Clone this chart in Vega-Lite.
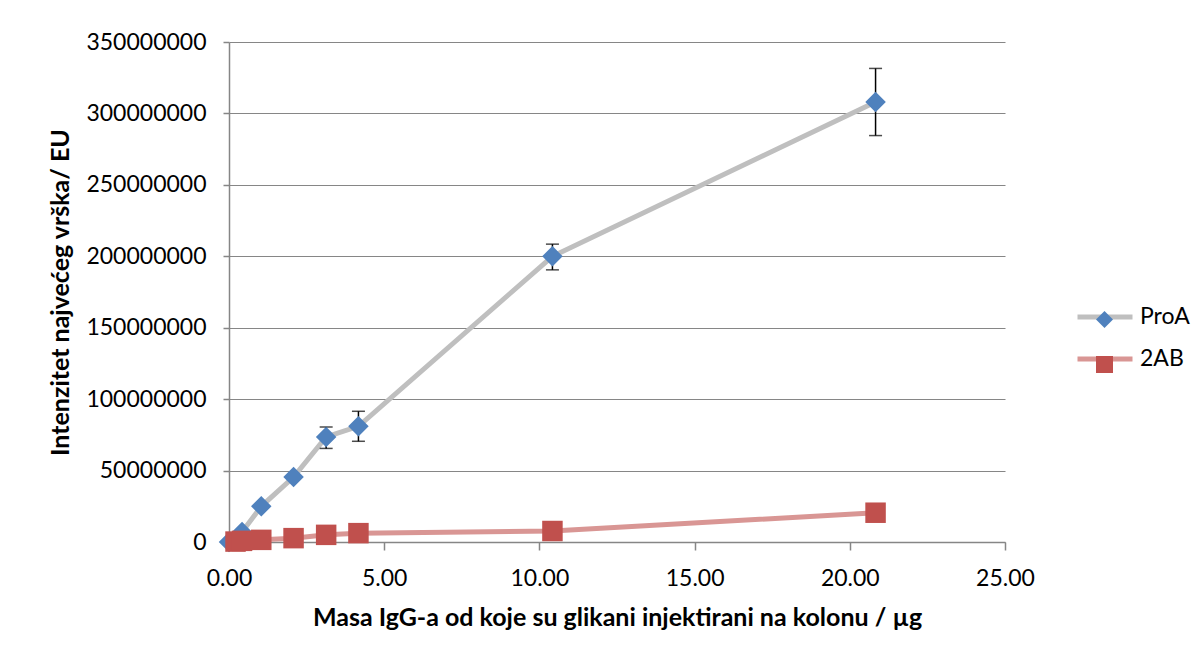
{
  "$schema": "https://vega.github.io/schema/vega-lite/v6.json",
  "width": 776,
  "height": 500,
  "autosize": "none",
  "padding": {"left": 229, "top": 42, "right": 195, "bottom": 117},
  "background": "white",
  "config": {
    "font": "Lato",
    "view": {"stroke": null},
    "axis": {
      "labelFont": "Lato",
      "labelFontSize": 23,
      "labelColor": "#000000",
      "labelFlush": false,
      "titleFont": "Lato",
      "titleFontSize": 25,
      "titleFontWeight": "bold",
      "titleColor": "#000000",
      "domainColor": "#868686",
      "domainWidth": 1.5,
      "tickColor": "#868686",
      "tickWidth": 1.5,
      "gridColor": "#868686",
      "gridWidth": 1.2
    },
    "legend": {"labelFont": "Lato", "labelFontSize": 23, "labelColor": "#000000"}
  },
  "data": {
    "values": [
      {"series": "ProA", "mass": 0, "intensity": 0},
      {"series": "ProA", "mass": 0.42, "intensity": 7000000},
      {"series": "ProA", "mass": 1.04, "intensity": 25000000},
      {"series": "ProA", "mass": 2.08, "intensity": 45500000, "lo": 44000000, "hi": 47000000},
      {"series": "ProA", "mass": 3.13, "intensity": 73500000, "lo": 65500000, "hi": 80500000},
      {"series": "ProA", "mass": 4.17, "intensity": 81000000, "lo": 70500000, "hi": 91500000},
      {"series": "ProA", "mass": 10.42, "intensity": 200000000, "lo": 190500000, "hi": 208500000},
      {"series": "ProA", "mass": 20.83, "intensity": 308000000, "lo": 284500000, "hi": 331500000},
      {"series": "2AB", "mass": 0.21, "intensity": 300000},
      {"series": "2AB", "mass": 0.42, "intensity": 800000},
      {"series": "2AB", "mass": 1.04, "intensity": 1500000},
      {"series": "2AB", "mass": 2.08, "intensity": 2700000},
      {"series": "2AB", "mass": 3.13, "intensity": 5000000},
      {"series": "2AB", "mass": 4.17, "intensity": 6200000},
      {"series": "2AB", "mass": 10.42, "intensity": 7700000},
      {"series": "2AB", "mass": 20.83, "intensity": 20500000}
    ]
  },
  "encoding": {
    "x": {
      "field": "mass",
      "type": "quantitative",
      "scale": {"domain": [0, 25], "nice": false, "zero": false},
      "axis": {
        "title": "Masa IgG-a od koje su glikani injektirani na kolonu / µg",
        "values": [0, 5, 10, 15, 20, 25],
        "format": ".2f",
        "grid": false,
        "tickSize": 8,
        "labelPadding": 17,
        "titlePadding": 15
      }
    },
    "y": {
      "field": "intensity",
      "type": "quantitative",
      "scale": {"domain": [0, 350000000], "nice": false},
      "axis": {
        "title": "Intenzitet najvećeg vrška/ EU",
        "values": [0, 50000000, 100000000, 150000000, 200000000, 250000000, 300000000, 350000000],
        "format": "d",
        "grid": true,
        "tickSize": 6,
        "labelPadding": 17,
        "titlePadding": 12
      }
    }
  },
  "layer": [
    {
      "mark": {"type": "line", "strokeWidth": 5},
      "encoding": {
        "stroke": {
          "field": "series",
          "type": "nominal",
          "sort": ["ProA", "2AB"],
          "scale": {"range": ["#BFBFBF", "#D99694"]},
          "legend": {
            "title": null,
            "orient": "none",
            "legendX": 846,
            "legendY": 245,
            "symbolType": "stroke",
            "symbolSize": 3025,
            "symbolStrokeWidth": 5,
            "labelOffset": 5,
            "rowPadding": -3
          }
        }
      }
    },
    {
      "transform": [{"filter": "isValid(datum.lo)"}],
      "mark": {"type": "rule", "color": "#000000", "strokeWidth": 1.5},
      "encoding": {
        "y": {"field": "lo", "type": "quantitative"},
        "y2": {"field": "hi"}
      }
    },
    {
      "transform": [{"filter": "isValid(datum.lo)"}],
      "mark": {"type": "tick", "orient": "horizontal", "color": "#000000", "size": 13, "thickness": 1.5},
      "encoding": {
        "y": {"field": "lo", "type": "quantitative"}
      }
    },
    {
      "transform": [{"filter": "isValid(datum.hi)"}],
      "mark": {"type": "tick", "orient": "horizontal", "color": "#000000", "size": 13, "thickness": 1.5},
      "encoding": {
        "y": {"field": "hi", "type": "quantitative"}
      }
    },
    {
      "mark": {"type": "point", "filled": true, "opacity": 1, "strokeWidth": 0},
      "encoding": {
        "shape": {
          "field": "series",
          "type": "nominal",
          "scale": {"domain": ["ProA", "2AB"], "range": ["diamond", "square"]},
          "legend": {
            "title": null,
            "orient": "none",
            "legendX": 864,
            "legendY": 266,
            "symbolSize": 290,
            "labelExpr": "''",
            "rowPadding": 20
          }
        },
        "fill": {
          "field": "series",
          "type": "nominal",
          "scale": {"domain": ["ProA", "2AB"], "range": ["#4F81BD", "#C0504D"]}
        },
        "size": {"value": 420}
      }
    }
  ]
}
